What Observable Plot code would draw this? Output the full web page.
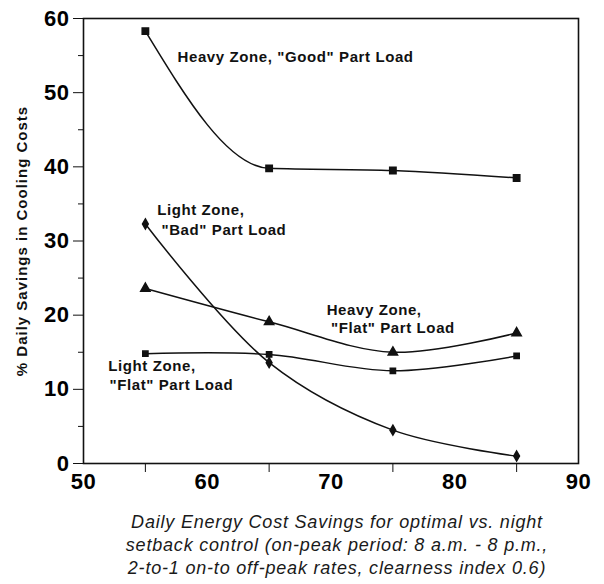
<!DOCTYPE html>
<html><head><meta charset="utf-8">
<script src="https://cdn.jsdelivr.net/npm/d3@7"></script>
<script src="https://cdn.jsdelivr.net/npm/@observablehq/plot@0.6"></script>
<style>
body{margin:0;background:#fff;font-family:"Liberation Sans",Arial,sans-serif;}
#chart svg{display:block;font-family:"Liberation Sans",Arial,sans-serif;}
#chart g[aria-label="y-axis tick label"] text, #chart g[aria-label="x-axis tick label"] text{font-weight:bold;font-size:22px;letter-spacing:0.5px;}
#caption{position:relative;width:604px;margin-top:11px;font-style:italic;font-size:18px;line-height:23px;letter-spacing:0.8px;color:#1a1a1a;}
#caption div{text-align:center;width:470px;margin-left:102px;}
</style></head><body>
<div id="chart"></div>
<div id="caption"></div>
<script>
// ---- data ----
const xValues = [55, 65, 75, 85];
const heavyGood = [58.3, 39.8, 39.5, 38.5];
const lightBad = [32.3, 13.6, 4.5, 1.0];
const heavyFlat = [23.6, 19.1, 15.0, 17.6];
const lightFlat = [14.8, 14.7, 12.5, 14.5];
const seriesNames = ["Heavy Good", "Light Bad", "Heavy Flat", "Light Flat"];
const seriesSymbols = ["square", "diamond", "triangle", "square"];
const xTicks = [50, 60, 70, 80, 90];
const xMinorTicks = [55, 65, 75, 85];
const yTicks = [0, 10, 20, 30, 40, 50, 60];
const yMinorTicks = [5, 15, 25, 35, 45, 55];
const yLabel = "% Daily Savings in Cooling Costs";
const captionLines = [
  "Daily Energy Cost Savings for optimal vs. night",
  "setback control (on-peak period: 8 a.m. - 8 p.m.,",
  "2-to-1 on-to off-peak rates, clearness index 0.6)"
];
// annotation lines: text and anchor in data units
const annoText = ["Heavy Zone, \"Good\" Part Load", "Light Zone,", "\"Bad\" Part Load", "Heavy Zone,", "\"Flat\" Part Load", "Light Zone,", "\"Flat\" Part Load"];
const annoX = [57.6, 55.95, 56.3, 69.65, 70.0, 52.0, 52.1];
const annoY = [54.8, 34.1, 31.5, 20.7, 18.2, 13.1, 10.5];

const allValues = [heavyGood, lightBad, heavyFlat, lightFlat];
const data = allValues.flatMap((vals, s) => xValues.map((x, i) => ({series: seriesNames[s], symbol: seriesSymbols[s], x, y: vals[i]})));
const annos = annoText.map((t, i) => ({t, x: annoX[i], y: annoY[i]}));
const dotSize = {"Heavy Good": 3.7, "Light Bad": 2.6, "Heavy Flat": 3.4, "Light Flat": 2.5};
const curves = {
  "Heavy Good": "monotone-x",
  "Light Bad": "catmull-rom",
  "Heavy Flat": "catmull-rom",
  "Light Flat": "catmull-rom"
};

const plot = Plot.plot({
  width: 604,
  height: 500,
  marginLeft: 83,
  marginRight: 26,
  marginTop: 18,
  marginBottom: 37,
  x: {domain: [50, 90]},
  y: {domain: [0, 60]},
  symbol: {type: "identity"},
  marks: [
    Plot.frame({stroke: "#111", strokeWidth: 1.6}),
    Plot.axisY(yTicks, {tickSize: 10, tickPadding: 4, label: null, stroke: "#111"}),
    Plot.axisY(yMinorTicks, {tickSize: 5, tickFormat: () => "", label: null, stroke: "#111"}),
    Plot.axisX(xTicks, {tickSize: 0, tickPadding: 10, label: null}),
    Plot.axisX(xMinorTicks, {tickSize: 9, tickFormat: () => "", label: null, stroke: "#111"}),
    ...seriesNames.map(name => Plot.line(data.filter(d => d.series === name), {x: "x", y: "y", curve: curves[name], stroke: "#111", strokeWidth: 1.5})),
    Plot.dot(data, {x: "x", y: "y", symbol: "symbol", r: d => dotSize[d.series], fill: "#111", stroke: "#111"}),
    Plot.text(annos, {x: "x", y: "y", text: "t", textAnchor: "start", fontSize: 15, fontWeight: "bold", fill: "#111"}),
    Plot.text([yLabel], {frameAnchor: "left", rotate: -90, dx: -61, textAnchor: "middle", fontSize: 15, fontWeight: "bold", fill: "#111"})
  ]
});
document.getElementById("chart").appendChild(plot);
// letter spacing for annotation and y label text
const textGroups = plot.querySelectorAll('g[aria-label="text"]');
textGroups.forEach((g, i) => g.querySelectorAll("text").forEach(t => t.setAttribute("letter-spacing", i === textGroups.length - 1 ? "1" : "0.6")));
const cap = document.getElementById("caption");
captionLines.forEach(l => { const d = document.createElement("div"); d.textContent = l; cap.appendChild(d); });
</script>
</body></html>
